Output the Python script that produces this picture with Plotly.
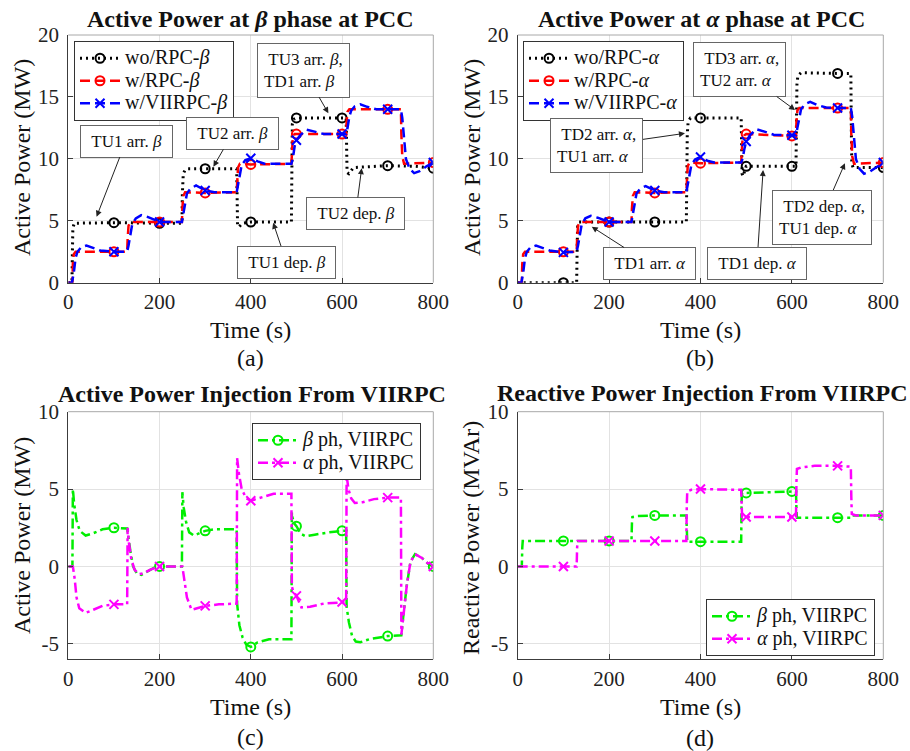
import plotly.graph_objects as go

FONT = "Liberation Serif"

# ---------------- data ----------------
marker_times = [100, 200, 300, 400, 500, 600, 700, 800]

# (a) Active power, beta phase at PCC
t_a_wo = [0, 8, 9, 10, 13, 100, 200, 249, 250, 252, 256, 262, 300, 369, 370, 371, 374, 382, 400,
          489, 490, 491, 494, 500, 600, 609, 610, 611, 615, 625, 700, 760, 800]
p_a_wo = [0, 0, 2.5, 4.4, 4.8, 4.85, 4.8, 4.8, 7.2, 8.8, 9.1, 9.2, 9.2, 9.2, 7.0, 4.6, 4.5, 4.8, 4.9,
          4.9, 9.0, 12.8, 13.2, 13.3, 13.3, 13.3, 11.0, 8.9, 8.8, 9.3, 9.45, 9.4, 9.25]

t_a_rpc = [0, 9, 10, 12, 16, 100, 129, 130, 132, 136, 200, 249, 250, 252, 256, 300, 369, 370, 372, 376, 400,
           489, 490, 492, 496, 500, 600, 609, 610, 612, 616, 700, 729, 730, 732, 736, 800]
p_a_rpc = [0, 0, 1.5, 2.3, 2.5, 2.5, 2.5, 3.5, 4.6, 4.9, 4.9, 4.9, 6.0, 7.0, 7.3, 7.25, 7.3, 8.5, 9.3, 9.6, 9.55,
           9.6, 10.8, 11.7, 12.0, 12.0, 12.0, 12.0, 13.0, 13.8, 14.0, 14.0, 14.0, 12.0, 10.2, 9.6, 9.7]

t_a_vii = [0, 8, 12, 16, 20, 28, 40, 55, 70, 100,
           129, 132, 136, 140, 148, 160, 175, 200,
           249, 252, 256, 260, 268, 280, 300, 320,
           369, 372, 376, 380, 388, 400, 415, 430,
           489, 492, 496, 500, 508, 522, 540, 560, 600,
           609, 612, 616, 620, 628, 640, 655, 675, 700,
           729, 732, 736, 740, 748, 758, 770, 785, 800]
p_a_vii = [0, 0, 0.8, 2.0, 2.5, 2.85, 3.0, 2.8, 2.6, 2.5,
           2.5, 3.0, 4.0, 4.7, 5.2, 5.45, 5.3, 4.9,
           4.9, 5.5, 6.6, 7.2, 7.6, 7.85, 7.45, 7.3,
           7.3, 7.9, 8.9, 9.5, 9.9, 10.05, 9.8, 9.6,
           9.6, 10.0, 11.0, 11.5, 11.9, 12.35, 12.2, 12.0, 12.0,
           12.0, 12.5, 13.4, 13.9, 14.25, 14.4, 14.2, 14.0, 14.0,
           14.0, 13.3, 11.5, 10.0, 9.2, 8.85, 9.0, 9.4, 9.7]

# (b) Active power, alpha phase at PCC
t_b_wo = [0, 100, 129, 130, 131, 134, 200, 300, 369, 370, 371, 373, 378, 400,
          489, 490, 491, 493, 500, 600, 609, 610, 611, 613, 620, 700, 729, 730, 731, 734, 745, 800]
p_b_wo = [0, 0, 0, 2.5, 4.5, 4.9, 4.9, 4.9, 4.9, 8.0, 12.0, 13.0, 13.3, 13.3,
          13.3, 11.0, 8.8, 8.6, 9.4, 9.4, 9.4, 13.0, 16.0, 16.7, 16.95, 16.9, 16.9, 12.5, 9.6, 9.3, 9.3, 9.3]

t_b_rpc = [0, 9, 10, 12, 16, 100, 129, 130, 132, 136, 200, 249, 250, 252, 256, 300, 369, 370, 372, 376, 400,
           489, 490, 492, 496, 500, 600, 609, 610, 612, 616, 700, 729, 730, 732, 736, 800]
p_b_rpc = [0, 0, 1.5, 2.3, 2.5, 2.5, 2.5, 3.5, 4.6, 4.9, 4.9, 4.9, 6.0, 7.0, 7.3, 7.25, 7.3, 8.5, 9.4, 9.7, 9.65,
           9.7, 10.8, 11.6, 11.9, 12.0, 11.85, 11.9, 13.0, 13.9, 14.1, 14.1, 14.1, 12.0, 10.2, 9.6, 9.7]

t_b_vii = [0, 8, 12, 16, 20, 28, 40, 55, 70, 100,
           129, 132, 136, 140, 148, 160, 175, 200,
           249, 252, 256, 260, 268, 280, 300, 320,
           369, 372, 376, 380, 388, 400, 415, 430,
           489, 492, 496, 500, 508, 522, 540, 560, 600,
           609, 612, 616, 620, 628, 640, 655, 675, 700,
           729, 732, 736, 740, 748, 758, 770, 785, 800]
p_b_vii = [0, 0, 0.8, 2.0, 2.5, 2.85, 3.0, 2.8, 2.6, 2.45,
           2.5, 3.0, 4.0, 4.7, 5.2, 5.4, 5.25, 4.9,
           4.9, 5.5, 6.6, 7.2, 7.6, 7.8, 7.45, 7.3,
           7.3, 7.9, 8.9, 9.5, 9.95, 10.15, 9.85, 9.7,
           9.7, 10.0, 10.8, 11.4, 11.9, 12.4, 12.2, 11.95, 11.9,
           11.9, 12.5, 13.4, 14.0, 14.4, 14.6, 14.35, 14.15, 14.1,
           14.1, 13.4, 11.5, 10.0, 9.2, 8.8, 8.95, 9.35, 9.7]

# (c) Active power injection from VIIRPC
t_c_beta = [0, 9, 10, 13, 18, 25, 38, 55, 75, 100,
            129, 131, 136, 142, 150, 160, 175, 190, 200,
            249, 250, 253, 258, 265, 275, 290, 300, 320,
            369, 370, 375, 382, 390, 400, 415, 440,
            489, 490, 491, 495, 500, 510, 520, 540, 570, 600,
            609, 610, 615, 622, 630, 640, 660, 700,
            729, 730, 735, 742, 750, 760, 775, 790, 800]
p_c_beta = [0, 0, 5.0, 4.0, 3.0, 2.3, 2.0, 2.15, 2.4, 2.5,
            2.45, 2.0, 1.0, 0.0, -0.45, -0.55, -0.3, -0.05, 0,
            0, 4.8, 3.8, 2.9, 2.2, 2.0, 2.2, 2.3, 2.4,
            2.4, -2.4, -3.8, -4.6, -5.05, -5.2, -4.9, -4.7,
            -4.7, 3.5, 3.2, 2.8, 2.6, 2.1, 1.95, 2.05, 2.2, 2.3,
            2.3, -2.6, -3.6, -4.5, -4.85, -4.9, -4.7, -4.5,
            -4.45, -4.45, -3.0, -1.2, 0.3, 0.8, 0.55, 0.15, 0]

t_c_alpha = [0, 10, 14, 18, 24, 38, 55, 75, 100,
             129, 130, 133, 138, 145, 155, 165, 180, 200,
             249, 250, 254, 260, 270, 285, 300, 330,
             369, 370, 374, 380, 390, 400, 420, 450,
             489, 490, 493, 500, 511, 530, 560, 600,
             609, 610, 614, 620, 628, 645, 670, 700,
             729, 730, 735, 742, 750, 760, 775, 790, 800]
p_c_alpha = [0, 0, -0.8, -2.0, -2.7, -3.0, -2.8, -2.55, -2.45,
             -2.45, 2.5, 1.5, 0.5, -0.2, -0.5, -0.45, -0.2, 0,
             0, 0, -0.8, -2.0, -2.8, -2.7, -2.55, -2.45,
             -2.4, 7.0, 6.0, 5.0, 4.4, 4.25, 4.45, 4.7,
             4.7, -1.3, -1.6, -1.9, -2.65, -2.6, -2.4, -2.3,
             -2.3, 5.9, 5.0, 4.4, 4.1, 4.15, 4.35, 4.45,
             4.45, -4.4, -3.0, -1.2, 0.3, 0.8, 0.55, 0.15, 0]

# (d) Reactive power injection from VIIRPC
t_d_beta = [0, 9, 10, 11, 100, 200, 249, 250, 251, 260, 300, 369, 370, 371, 400,
            489, 490, 491, 500, 600, 609, 610, 611, 700, 729, 731, 740, 800]
q_d_beta = [0, 0, 1.2, 1.65, 1.65, 1.65, 1.65, 2.8, 3.2, 3.25, 3.3, 3.3, 2.0, 1.6, 1.6,
            1.6, 4.3, 4.75, 4.75, 4.85, 4.85, 3.6, 3.15, 3.15, 3.15, 3.3, 3.3, 3.3]

t_d_alpha = [0, 100, 129, 130, 131, 200, 300, 369, 370, 371, 380, 400,
             489, 490, 491, 500, 600, 609, 610, 611, 620, 650, 700, 729, 730, 731, 740, 800]
q_d_alpha = [0, 0, 0, 1.2, 1.65, 1.65, 1.65, 1.65, 4.0, 4.85, 4.95, 5.0,
             4.95, 3.8, 3.2, 3.2, 3.2, 3.2, 5.5, 6.3, 6.4, 6.5, 6.5, 6.45, 4.5, 3.4, 3.3, 3.3]

x_ticks = [0, 200, 400, 600, 800]
y_ticks_top = [0, 5, 10, 15, 20]
y_ticks_bot = [-5, 0, 5, 10]
y_ticktext_bot = ["-5", "0", "5", "10"]

# ---------------- styles ----------------
BLACK, RED, BLUE = "#000000", "#ff0000", "#0000ff"
GREEN, MAGENTA = "#00ee00", "#ff00ff"
DOT = "2px,4px"
DASH = "10px,5px"
DASHDOT = "10px,4px,3px,4px"

fig = go.Figure()


def lg(text):
    return '<span style="font-size:20px">' + text + "</span>"


def add_series(t, y, name, color, dash, symbol, xa, ya, legend, width=2.5):
    line = dict(color=color, width=width, dash=dash)
    marker = dict(symbol=symbol, size=9, color=color, line=dict(color=color, width=2))
    fig.add_trace(go.Scatter(x=t, y=y, mode="lines", line=line, showlegend=False,
                             xaxis=xa, yaxis=ya, hoverinfo="skip"))
    mt = [ti for ti in t if ti in marker_times]
    my = [yi for ti, yi in zip(t, y) if ti in marker_times]
    fig.add_trace(go.Scatter(x=mt, y=my, mode="markers", marker=marker, showlegend=False,
                             xaxis=xa, yaxis=ya, hoverinfo="skip"))
    fig.add_trace(go.Scatter(x=[None], y=[None], mode="lines+markers", name=lg(name),
                             line=line, marker=marker, legend=legend, xaxis=xa, yaxis=ya))


B = "<i>β</i>"
A = "<i>α</i>"
add_series(t_a_wo, p_a_wo, "wo/RPC-" + B, BLACK, DOT, "circle-open", "x", "y", "legend", 3)
add_series(t_a_rpc, p_a_rpc, "w/RPC-" + B, RED, DASH, "circle-open", "x", "y", "legend")
add_series(t_a_vii, p_a_vii, "w/VIIRPC-" + B, BLUE, DASH, "x-thin-open", "x", "y", "legend")

add_series(t_b_wo, p_b_wo, "wo/RPC-" + A, BLACK, DOT, "circle-open", "x2", "y2", "legend2", 3)
add_series(t_b_rpc, p_b_rpc, "w/RPC-" + A, RED, DASH, "circle-open", "x2", "y2", "legend2")
add_series(t_b_vii, p_b_vii, "w/VIIRPC-" + A, BLUE, DASH, "x-thin-open", "x2", "y2", "legend2")

add_series(t_c_beta, p_c_beta, B + " ph, VIIRPC", GREEN, DASHDOT, "circle-open", "x3", "y3", "legend3")
add_series(t_c_alpha, p_c_alpha, A + " ph, VIIRPC", MAGENTA, DASHDOT, "x-thin-open", "x3", "y3", "legend3")

add_series(t_d_beta, q_d_beta, B + " ph, VIIRPC", GREEN, DASHDOT, "circle-open", "x4", "y4", "legend4")
add_series(t_d_alpha, q_d_alpha, A + " ph, VIIRPC", MAGENTA, DASHDOT, "x-thin-open", "x4", "y4", "legend4")

# ---------------- layout ----------------
W, H = 910, 751
XL = [68.3 / W, 433.3 / W]
XR = [517.7 / W, 883.3 / W]
YT = [1 - 282.7 / H, 1 - 35 / H]
YB = [1 - 659.3 / H, 1 - 411.7 / H]

tickfont = dict(family=FONT, size=21, color="#222222")
axis_common = dict(showline=True, linecolor="#3c3c3c", linewidth=1, mirror=False,
                   ticks="inside", ticklen=5, tickcolor="#3c3c3c", showgrid=True,
                   gridcolor="#e2e2e2", gridwidth=1, zeroline=False, tickfont=tickfont,
                   fixedrange=True, automargin=False)


def xax(domain, anchor):
    return dict(axis_common, domain=domain, anchor=anchor, range=[0, 800], tickvals=x_ticks)


def yax_top(domain, anchor):
    return dict(axis_common, domain=domain, anchor=anchor, range=[0, 20], tickvals=y_ticks_top,
                ticklabelstandoff=4)


def yax_bot(domain, anchor):
    return dict(axis_common, domain=domain, anchor=anchor, range=[-6, 10],
                tickvals=y_ticks_bot, ticktext=y_ticktext_bot, ticklabelstandoff=4)


legend_common = dict(bgcolor="white", bordercolor="#333333", borderwidth=1,
                     font=dict(family=FONT, size=15, color="#111111"),
                     xanchor="left", yanchor="top", itemwidth=40, tracegroupgap=0)

fig.update_layout(
    template="none",
    width=W, height=H, margin=dict(l=0, r=0, t=0, b=0, autoexpand=False),
    paper_bgcolor="white", plot_bgcolor="white",
    font=dict(family=FONT, color="#111111"),
    xaxis=xax(XL, "y"), yaxis=yax_top(YT, "x"),
    xaxis2=xax(XR, "y2"), yaxis2=yax_top(YT, "x2"),
    xaxis3=xax(XL, "y3"), yaxis3=yax_bot(YB, "x3"),
    xaxis4=xax(XR, "y4"), yaxis4=yax_bot(YB, "x4"),
    legend=dict(legend_common, x=74 / W, y=1 - 41 / H),
    legend2=dict(legend_common, x=523 / W, y=1 - 41 / H),
    legend3=dict(legend_common, x=252 / W, y=1 - 423 / H),
    legend4=dict(legend_common, x=706 / W, y=1 - 599 / H),
    showlegend=True,
)

# light top/right box edges
shapes = []
for xr, yr in [("x", "y"), ("x2", "y2"), ("x3", "y3"), ("x4", "y4")]:
    shapes.append(dict(type="line", xref=xr + " domain", yref=yr + " domain", x0=0, x1=1, y0=1, y1=1,
                       line=dict(color="#a8a8a8", width=1)))
    shapes.append(dict(type="line", xref=xr + " domain", yref=yr + " domain", x0=1, x1=1, y0=0, y1=1,
                       line=dict(color="#a8a8a8", width=1)))
fig.update_layout(shapes=shapes)

ann = []


def text_at(px, py, text, size, angle=0):
    ann.append(dict(x=px / W, y=1 - py / H, xref="paper", yref="paper", text=text, showarrow=False,
                    xanchor="center", yanchor="middle", textangle=angle,
                    font=dict(family=FONT, size=size, color="#111111")))


# titles
text_at(250, 19, "<b>Active Power at <i>β</i> phase at PCC</b>", 24)
text_at(701, 19, "<b>Active Power at <i>α</i> phase at PCC</b>", 24)
text_at(252, 394, "<b>Active Power Injection From VIIRPC</b>", 24)
text_at(702, 393, "<b>Reactive Power Injection From VIIRPC</b>", 24)
# axis titles
text_at(250, 330, "Time (s)", 24)
text_at(700, 330, "Time (s)", 24)
text_at(250, 707, "Time (s)", 24)
text_at(700, 707, "Time (s)", 24)
text_at(22, 158, "Active Power (MW)", 24, angle=-90)
text_at(472, 158, "Active Power (MW)", 24, angle=-90)
text_at(22, 536, "Active Power (MW)", 24, angle=-90)
text_at(471, 538, "Reactive Power (MVAr)", 24, angle=-90)
# panel labels
text_at(250, 358, "(a)", 24)
text_at(700, 358, "(b)", 24)
text_at(250, 737, "(c)", 24)
text_at(700, 738, "(d)", 24)

# event callouts: (text, head_t, head_y, box_t, box_y, axes)
callouts = [
    ("TU1 arr. " + B, 62, 5.33, 126.5, 11.44, "x", "y"),
    ("TU2 arr. " + B, 318, 9.37, 360, 12.05, "x", "y"),
    ("TU3 arr. " + B + ",<br>TD1 arr. " + B, 570, 13.68, 515.5, 17.17, "x", "y"),
    ("TU1 dep. " + B, 449, 4.84, 478, 1.67, "x", "y"),
    ("TU2 dep. " + B, 643, 9.24, 630, 5.59, "x", "y"),
    ("TD2 arr. " + A + ",<br>TU1 arr. " + A, 366, 12.06, 173.5, 11.04, "x2", "y2"),
    ("TD3 arr. " + A + ",<br>TU2 arr. " + A, 607, 13.94, 486.4, 17.21, "x2", "y2"),
    ("TD1 arr. " + A, 162, 4.52, 287.3, 1.55, "x2", "y2"),
    ("TD1 dep. " + A, 537, 9.1, 523.6, 1.59, "x2", "y2"),
    ("TD2 dep. " + A + ",<br>TU1 dep. " + A, 716, 9.64, 664.8, 5.3, "x2", "y2"),
]
for text, hx, hy, bx, by, xr, yr in callouts:
    ann.append(dict(x=hx, y=hy, xref=xr, yref=yr, ax=bx, ay=by, axref=xr, ayref=yr,
                    text="&nbsp;" + text + "&nbsp;", showarrow=True, arrowhead=2, arrowsize=1.2,
                    arrowwidth=1, arrowcolor="#222222", bgcolor="white", bordercolor="#666666",
                    borderwidth=1, borderpad=6, align="left",
                    font=dict(family=FONT, size=17, color="#111111")))

fig.update_layout(annotations=ann)

fig.write_html("out.html",
               config={"displayModeBar": False},
               post_script="document.body.style.margin='0px';document.body.style.padding='0px';"
                           "document.body.style.overflow='hidden';")
